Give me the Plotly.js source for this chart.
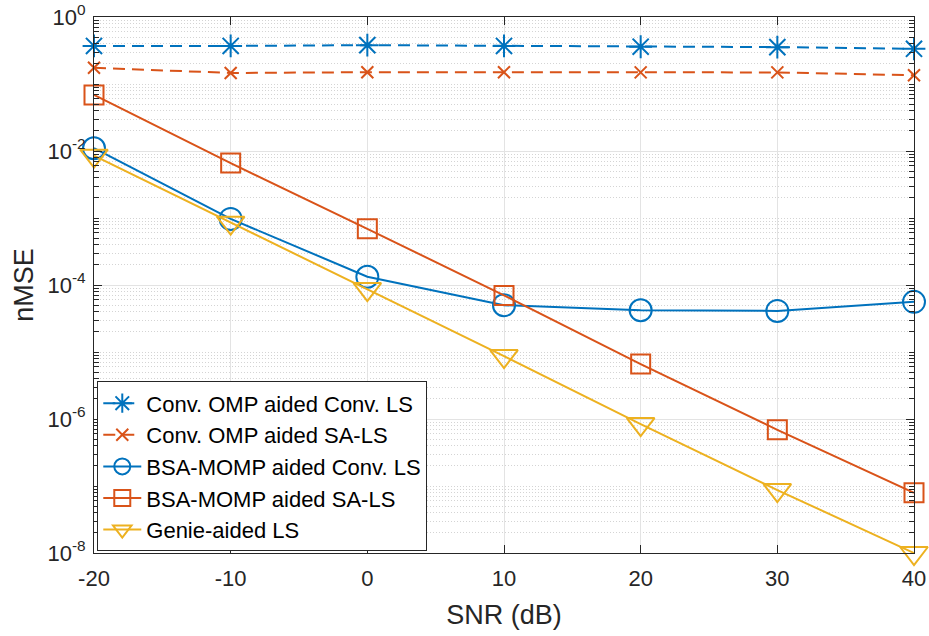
<!DOCTYPE html>
<html>
<head>
<meta charset="utf-8">
<script src="https://cdn.plot.ly/plotly-3.0.1.min.js"></script>
<style>html,body{margin:0;padding:0;background:#fff;} #chart{width:929px;height:636px;}</style>
</head>
<body>
<div id="chart"></div>
<script>
var snr = [-20, -10, 0, 10, 20, 30, 40];
var convOmpConvLs = [0.37, 0.37, 0.38, 0.37, 0.36, 0.355, 0.335];
var convOmpSaLs = [0.175, 0.146, 0.15, 0.15, 0.149, 0.149, 0.135];
var bsaMompConvLs = [0.011, 9.7e-4, 1.33e-4, 5.0e-5, 4.2e-5, 4.1e-5, 5.6e-5];
var bsaMompSaLs = [0.0686, 6.6e-3, 6.9e-4, 7.0e-5, 6.6e-6, 6.9e-7, 7.9e-8];
var genieLs = [8.5e-3, 8.5e-4, 8.7e-5, 8.7e-6, 8.4e-7, 8.7e-8, 1.0e-8];

var seriesNames = ['Conv. OMP aided Conv. LS', 'Conv. OMP aided SA-LS', 'BSA-MOMP aided Conv. LS', 'BSA-MOMP aided SA-LS', 'Genie-aided LS'];
var xTickVals = [-20, -10, 0, 10, 20, 30, 40];
var xTickText = ['-20', '-10', '0', '10', '20', '30', '40'];
var yTickVals = [1, 1e-2, 1e-4, 1e-6, 1e-8];
var yTickText = ['10<sup>0</sup>', '10<sup>-2</sup>', '10<sup>-4</sup>', '10<sup>-6</sup>', '10<sup>-8</sup>'];

var blue = '#0072BD', orange = '#D95319', yellow = '#EDB120';

var minorVals = [];
for (var e = -8; e < 0; e++) {
  for (var m = 1; m <= 9; m++) {
    if (m === 1 && (e % 2 === 0)) continue;
    minorVals.push(m * Math.pow(10, e));
  }
}

function tr(y, name, color, symbol, size, dash) {
  return {
    x: snr, y: y, name: name, type: 'scatter', mode: 'lines+markers',
    cliponaxis: false,
    line: {color: color, width: 2, dash: dash || 'solid'},
    marker: {symbol: symbol, size: size, color: color, line: {color: color, width: 2}}
  };
}

var data = [
  tr(convOmpConvLs, seriesNames[0], blue, 'asterisk-open', 19, '12px,7px'),
  tr(convOmpSaLs, seriesNames[1], orange, 'x-thin-open', 12, '12px,7px'),
  tr(bsaMompConvLs, seriesNames[2], blue, 'circle-open', 22),
  tr(bsaMompSaLs, seriesNames[3], orange, 'square-open', 19),
  tr(genieLs, seriesNames[4], yellow, 'triangle-down-open', 24)
];

var font = 'Liberation Sans, Arial, Helvetica, sans-serif';
var layout = {
  width: 929, height: 636,
  margin: {l: 94, r: 15, t: 17, b: 83},
  paper_bgcolor: '#fff', plot_bgcolor: '#fff',
  font: {family: font, color: '#262626', size: 22},
  showlegend: true,
  legend: {
    x: 0.004, y: 0.003, xanchor: 'left', yanchor: 'bottom',
    bgcolor: '#fff', bordercolor: '#262626', borderwidth: 1,
    font: {family: font, size: 22, color: '#000'},
    itemwidth: 38, tracegroupgap: 0
  },
  xaxis: {
    range: [-20, 40], tickvals: xTickVals, ticktext: xTickText,
    ticks: 'inside', ticklen: 8, tickcolor: '#262626', tickwidth: 1,
    showline: true, linecolor: '#262626', linewidth: 1, mirror: 'allticks',
    showgrid: true, gridcolor: '#e3e3e3', gridwidth: 1, zeroline: false,
    tickfont: {size: 22, color: '#262626'}, ticklabelstandoff: 6,
    title: {text: 'SNR (dB)', font: {size: 27, color: '#262626'}, standoff: 14}
  },
  yaxis: {
    type: 'log', range: [-8, 0], tickvals: yTickVals, ticktext: yTickText,
    ticks: 'inside', ticklen: 8, tickcolor: '#262626', tickwidth: 1,
    showline: true, linecolor: '#262626', linewidth: 1, mirror: 'allticks',
    showgrid: true, gridcolor: '#e3e3e3', gridwidth: 1, zeroline: false,
    tickfont: {size: 22, color: '#262626'}, ticklabelstandoff: 3,
    minor: {tickvals: minorVals, ticks: 'inside', ticklen: 5, tickcolor: '#262626',
            showgrid: true, gridcolor: '#d4d4d4', gridwidth: 1, griddash: '1px,2px'},
    title: {text: 'nMSE', font: {size: 27, color: '#262626'}, standoff: 5}
  }
};

Plotly.newPlot('chart', data, layout, {displayModeBar: false, staticPlot: true});
</script>
</body>
</html>
